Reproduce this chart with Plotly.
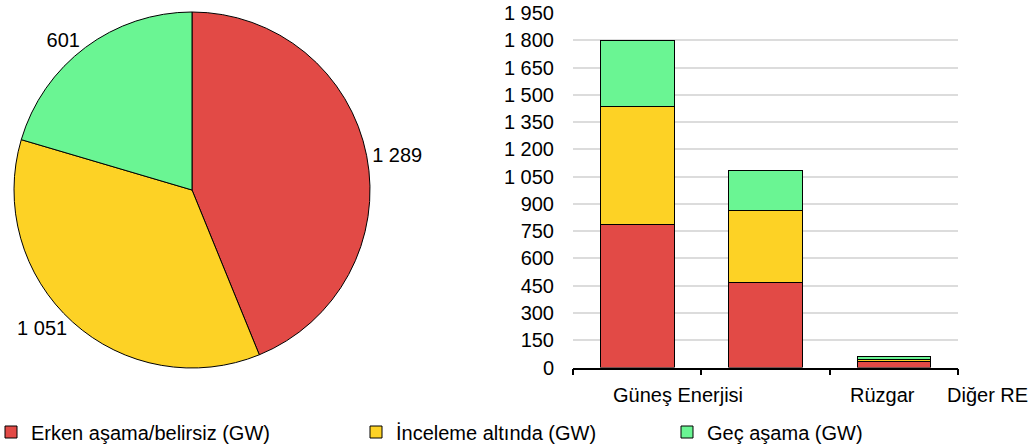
import plotly.graph_objects as go

# Project pipeline by development stage (GW)
stages = ["Erken aşama/belirsiz (GW)", "İnceleme altında (GW)", "Geç aşama (GW)"]
stage_colors = ["#E24A46", "#FDD225", "#6AF593"]

# Totals per stage (pie)
stage_totals = [1289, 1051, 601]

# Breakdown by technology (stacked bars)
technologies = ["Güneş Enerjisi", "Rüzgar", "Diğer RE"]
early_stage = [784, 470, 35]
under_review = [652, 391, 8]
late_stage = [364, 222, 15]
bar_series = [early_stage, under_review, late_stage]

# Category label anchors along the bar axis (category units)
tech_label_pos = [0.32, 1.91, 2.73]

y_ticks = list(range(0, 1951, 150))

FONT = "Liberation Sans, Arial, sans-serif"
W, H = 1035, 445

fig = go.Figure()

fig.add_trace(go.Pie(
    labels=stages,
    values=stage_totals,
    sort=False,
    direction="clockwise",
    rotation=0,
    marker=dict(colors=stage_colors, line=dict(color="black", width=1)),
    textposition="outside",
    texttemplate="%{value:,}",
    textfont=dict(family=FONT, size=20, color="black"),
    domain=dict(x=[14 / W, 370 / W], y=[1 - 368 / H, 1 - 12 / H]),
    showlegend=False,
    hoverinfo="label+value",
))

legend_names = ["legend", "legend2", "legend3"]
for name, color, values, lg in zip(stages, stage_colors, bar_series, legend_names):
    fig.add_trace(go.Bar(
        x=technologies,
        y=values,
        name=name,
        marker=dict(color=color, line=dict(color="black", width=1)),
        width=0.574,
        legend=lg,
        xaxis="x",
        yaxis="y",
    ))

n_cat = len(technologies)
annotations = [
    dict(x=(pos + 0.5) / n_cat, y=1 - 395 / H, xref="x domain", yref="paper", text=t,
         showarrow=False, xanchor="center", yanchor="middle",
         font=dict(family=FONT, size=20, color="black"))
    for pos, t in zip(tech_label_pos, technologies)
]

legend_common = dict(orientation="h", yanchor="middle", y=1 - 432 / H,
                     xanchor="left",
                     font=dict(family=FONT, size=20, color="black"),
                     bgcolor="rgba(0,0,0,0)", borderwidth=0)

fig.update_layout(
    width=W,
    height=H,
    margin=dict(l=0, r=0, t=0, b=0, autoexpand=False),
    paper_bgcolor="white",
    plot_bgcolor="white",
    separators=", ",
    barmode="stack",
    font=dict(family=FONT, size=20, color="black"),
    xaxis=dict(
        domain=[573 / W, 958 / W],
        type="category",
        categoryorder="array",
        categoryarray=technologies,
        range=[-0.5, 2.5],
        showticklabels=False,
        tickson="boundaries",
        ticks="outside",
        ticklen=6,
        tickwidth=1.5,
        tickcolor="black",
        showline=True,
        linecolor="black",
        linewidth=1.5,
        showgrid=False,
        anchor="y",
    ),
    yaxis=dict(
        domain=[1 - 367.5 / H, 1 - 13 / H],
        range=[0, 1950],
        tickvals=y_ticks,
        tickformat=",d",
        showgrid=True,
        gridcolor="#DCDCDC",
        gridwidth=1.5,
        zeroline=False,
        showline=False,
        ticks="",
        ticklabelstandoff=18,
        tickfont=dict(family=FONT, size=20, color="black"),
        anchor="x",
    ),
    legend=dict(x=-9 / W, **legend_common),
    legend2=dict(x=356 / W, **legend_common),
    legend3=dict(x=667 / W, **legend_common),
    annotations=annotations,
)

fig.write_html("out.html")
